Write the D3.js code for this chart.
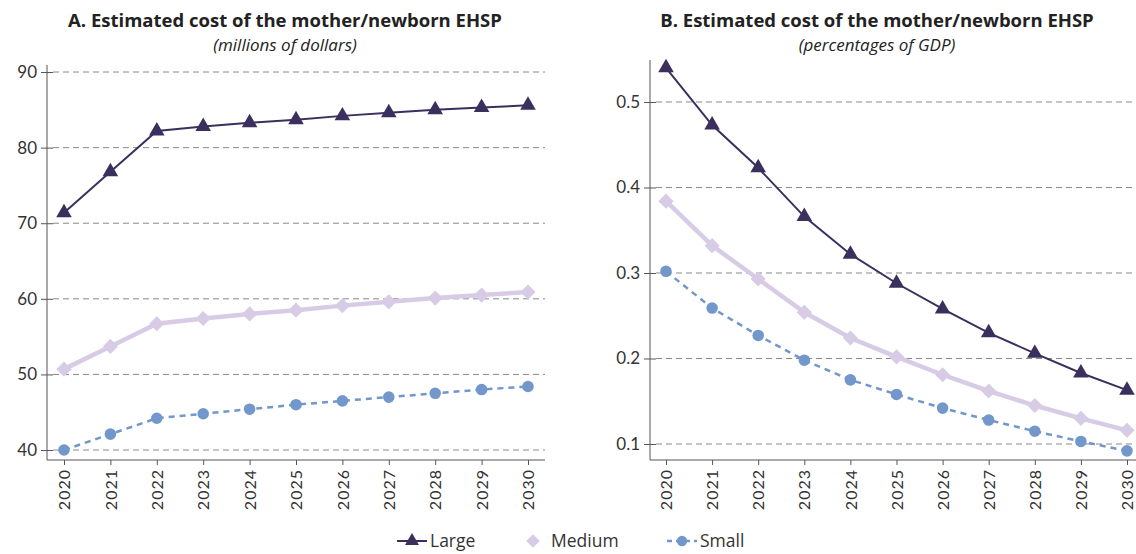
<!DOCTYPE html>
<html>
<head>
<meta charset="utf-8">
<script src="https://cdn.jsdelivr.net/npm/d3@7"></script>
<style>
  body { margin: 0; background: #fff; }
  svg { font-family: "Open Sans", Lato, sans-serif; }
  .grid line { stroke: #8a8a8a; stroke-dasharray: 6 4; stroke-width: 1; }
  .axis path, .axis line { stroke: #555; }
  .axis text { fill: #333; font-size: 16px; font-family: Lato, sans-serif; }
</style>
</head>
<body>
<svg width="1136" height="554"></svg>
<script>
// years on the x axis
const years = [2020, 2021, 2022, 2023, 2024, 2025, 2026, 2027, 2028, 2029, 2030];

// panel A - millions of dollars
const largeUSD  = [71.4, 76.8, 82.2, 82.8, 83.3, 83.7, 84.2, 84.6, 85.0, 85.3, 85.6];
const mediumUSD = [50.7, 53.7, 56.7, 57.4, 58.0, 58.5, 59.1, 59.6, 60.1, 60.5, 60.9];
const smallUSD  = [40.0, 42.1, 44.2, 44.8, 45.4, 46.0, 46.5, 47.0, 47.5, 48.0, 48.4];
const ticksA = [40, 50, 60, 70, 80, 90];

// panel B - percentages of GDP
const largeGDP  = [0.540, 0.473, 0.423, 0.366, 0.322, 0.288, 0.258, 0.230, 0.206, 0.183, 0.163];
const mediumGDP = [0.384, 0.332, 0.293, 0.254, 0.224, 0.202, 0.181, 0.162, 0.145, 0.130, 0.116];
const smallGDP  = [0.302, 0.259, 0.227, 0.198, 0.175, 0.158, 0.142, 0.128, 0.115, 0.103, 0.092];
const ticksB = [0.1, 0.2, 0.3, 0.4, 0.5];

const seriesNames = ["Large", "Medium", "Small"];

const style = {
  Large:  { color: "#3b2f5e", width: 2,   dash: null,  sym: d3.symbolTriangle, size: 105, rot: 0 },
  Medium: { color: "#d8cbe6", width: 4.5, dash: null,  sym: d3.symbolSquare,   size: 115, rot: 45 },
  Small:  { color: "#7197cb", width: 2.5, dash: "6 5", sym: d3.symbolCircle,   size: 105, rot: 0 }
};

const svg = d3.select("svg");

function panel(opt) {
  const x = d3.scalePoint().domain(years).range([opt.x0, opt.x1]);
  const y = d3.scaleLinear().domain(opt.domain).range([opt.yBottom, opt.yTop]);
  const g = svg.append("g");

  // titles
  g.append("text").attr("x", opt.cx).attr("y", 27).attr("text-anchor", "middle")
    .style("font-size", "18.5px").style("font-weight", "bold").attr("fill", "#222")
    .text(opt.title);
  g.append("text").attr("x", opt.cx).attr("y", 51).attr("text-anchor", "middle")
    .style("font-size", "17px").style("font-style", "italic").attr("fill", "#222")
    .text(opt.subtitle);

  // dashed grid
  g.append("g").attr("class", "grid")
    .selectAll("line").data(opt.ticks).join("line")
    .attr("x1", opt.axisX + 6).attr("x2", opt.gridEnd)
    .attr("y1", d => y(d)).attr("y2", d => y(d));

  // y axis
  const ya = g.append("g").attr("class", "axis")
    .attr("transform", `translate(${opt.axisX},0)`)
    .call(d3.axisLeft(y).tickValues(opt.ticks).tickSize(6).tickSizeOuter(0).tickFormat(opt.fmt));
  ya.select(".domain").attr("d", `M0,${opt.yTop}V${opt.yBottom}`);
  ya.selectAll(".tick line").attr("x2", 6).attr("x1", -6);
  ya.selectAll(".tick text").attr("x", -10).style("font-size", "17px");

  // x axis
  const xa = g.append("g").attr("class", "axis")
    .attr("transform", `translate(0,${opt.yBottom})`)
    .call(d3.axisBottom(x).tickSize(5).tickSizeOuter(0));
  xa.select(".domain").attr("d", `M${opt.axisX},0H${opt.gridEnd}`);
  xa.selectAll(".tick text")
    .attr("transform", "rotate(-90)")
    .attr("x", -9).attr("y", 0).attr("dy", "0.35em")
    .style("text-anchor", "end").style("letter-spacing", "1px");

  const line = d3.line().x((d, i) => x(years[i])).y(d => y(d));

  opt.series.forEach((vals, k) => {
    const s = style[seriesNames[k]];
    g.append("path").datum(vals)
      .attr("fill", "none").attr("stroke", s.color).attr("stroke-width", s.width)
      .attr("stroke-dasharray", s.dash).attr("d", line);
    g.append("g").selectAll("path").data(vals).join("path")
      .attr("transform", (d, i) => `translate(${x(years[i])},${y(d)}) rotate(${s.rot})`)
      .attr("d", d3.symbol().type(s.sym).size(s.size))
      .attr("fill", s.color);
  });
}

panel({
  title: "A. Estimated cost of the mother/newborn EHSP",
  subtitle: "(millions of dollars)",
  cx: 285, x0: 64, x1: 528, axisX: 47, gridEnd: 545,
  domain: [38.68, 90.93], yBottom: 460, yTop: 65,
  ticks: ticksA, fmt: d3.format("d"),
  series: [largeUSD, mediumUSD, smallUSD]
});

panel({
  title: "B. Estimated cost of the mother/newborn EHSP",
  subtitle: "(percentages of GDP)",
  cx: 877, x0: 666, x1: 1127, axisX: 650, gridEnd: 1136,
  domain: [0.0813, 0.5491], yBottom: 460, yTop: 60,
  ticks: ticksB, fmt: d3.format(".1f"),
  series: [largeGDP, mediumGDP, smallGDP]
});

// legend
const legend = svg.append("g").attr("transform", "translate(0,541)");
const legendPos = [397, 518, 667];
seriesNames.forEach((name, k) => {
  const s = style[name];
  const lg = legend.append("g").attr("transform", `translate(${legendPos[k]},0)`);
  if (name !== "Medium") {
    lg.append("line").attr("x1", 0).attr("x2", 30).attr("y1", 0).attr("y2", 0)
      .attr("stroke", s.color).attr("stroke-width", s.width).attr("stroke-dasharray", name === "Small" ? "5 4" : null);
  }
  lg.append("path").attr("transform", `translate(15,0) rotate(${s.rot})`)
    .attr("d", d3.symbol().type(s.sym).size(s.size * 0.8)).attr("fill", s.color);
  lg.append("text").attr("x", 33).attr("y", 0).attr("dy", "0.35em")
    .style("font-size", "17.5px").attr("fill", "#333").text(name);
});
</script>
</body>
</html>
